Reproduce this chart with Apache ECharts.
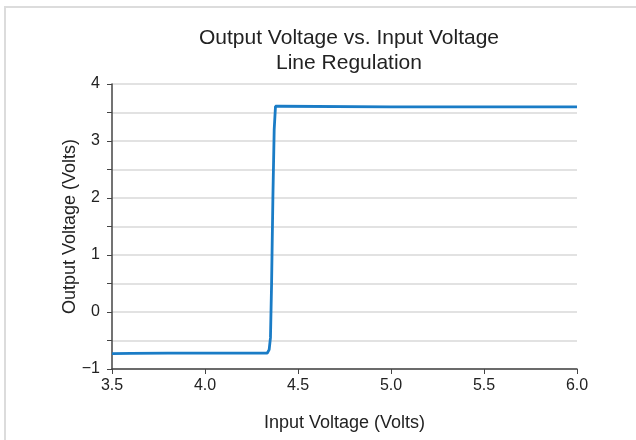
<!DOCTYPE html>
<html>
<head>
<meta charset="utf-8">
<script src="https://cdn.jsdelivr.net/npm/echarts@6/dist/echarts.min.js"></script>
<style>
  html, body { margin: 0; padding: 0; background: #fff; }
  #chart { width: 636px; height: 440px; }
</style>
</head>
<body>
<div id="chart"></div>
<script>
var inputVolts = [3.5, 3.6, 3.8, 4.0, 4.2, 4.335, 4.345, 4.352, 4.358, 4.365, 4.372, 4.379, 4.4, 5.0, 6.0];
var outputVolts = [-0.73, -0.725, -0.722, -0.72, -0.72, -0.72, -0.66, -0.45, 0.5, 2.0, 3.2, 3.61, 3.61, 3.6, 3.6];
var titleLines = ['Output Voltage vs. Input Voltage', 'Line Regulation'];

var chart = echarts.init(document.getElementById('chart'));
var font = '"Liberation Sans", Arial, sans-serif';

var points = inputVolts.map(function (x, i) { return [x, outputVolts[i]]; });

chart.setOption({
    animation: false,
    backgroundColor: '#fff',
    textStyle: {fontFamily: font},
    graphic: [{
        type: 'rect',
        shape: {x: 5, y: 7, width: 700, height: 500},
        style: {fill: 'none', stroke: '#dcdcdc', lineWidth: 2}
    }],
    title: {
        text: titleLines.join('\n'),
        left: 344,
        textAlign: 'center',
        top: 21,
        textStyle: {fontFamily: font, fontSize: 21, fontWeight: 'normal', color: '#222', lineHeight: 25}
    },
    grid: {left: 112, right: 59, top: 84, bottom: 71},
    xAxis: {
        type: 'value',
        min: 3.5, max: 6, interval: 0.5,
        name: 'Input Voltage (Volts)',
        nameLocation: 'middle',
        nameGap: 45,
        nameTextStyle: {fontFamily: font, fontSize: 18, color: '#222'},
        axisLine: {onZero: false, lineStyle: {color: '#444', width: 1.5}},
        axisTick: {length: 5, lineStyle: {color: '#444'}},
        axisLabel: {fontFamily: font, fontSize: 16, color: '#222', margin: 9,
            formatter: function (v) { return v.toFixed(1); }},
        splitLine: {show: false}
    },
    yAxis: {
        type: 'value',
        min: -1, max: 4, interval: 0.5,
        name: 'Output Voltage (Volts)',
        nameLocation: 'middle',
        nameMoveOverlap: false,
        nameGap: 33,
        nameTextStyle: {fontFamily: font, fontSize: 18, color: '#222'},
        axisLine: {show: true, onZero: false, lineStyle: {color: '#444', width: 1.5}},
        axisTick: {show: true, length: 5, lineStyle: {color: '#444'}},
        axisLabel: {fontFamily: font, fontSize: 16, color: '#222', margin: 12,
            formatter: function (v) {
                if (Math.abs(v - Math.round(v)) > 1e-6) return '';
                return v < 0 ? '\u2212' + Math.abs(v) : String(v);
            }},
        splitLine: {lineStyle: {color: '#d9d9d9', width: 1.5}}
    },
    series: [{
        type: 'line',
        data: points,
        showSymbol: false,
        smooth: false,
        lineStyle: {color: '#1a7cc6', width: 2.8},
        itemStyle: {color: '#1a7cc6'}
    }]
});
</script>
</body>
</html>
